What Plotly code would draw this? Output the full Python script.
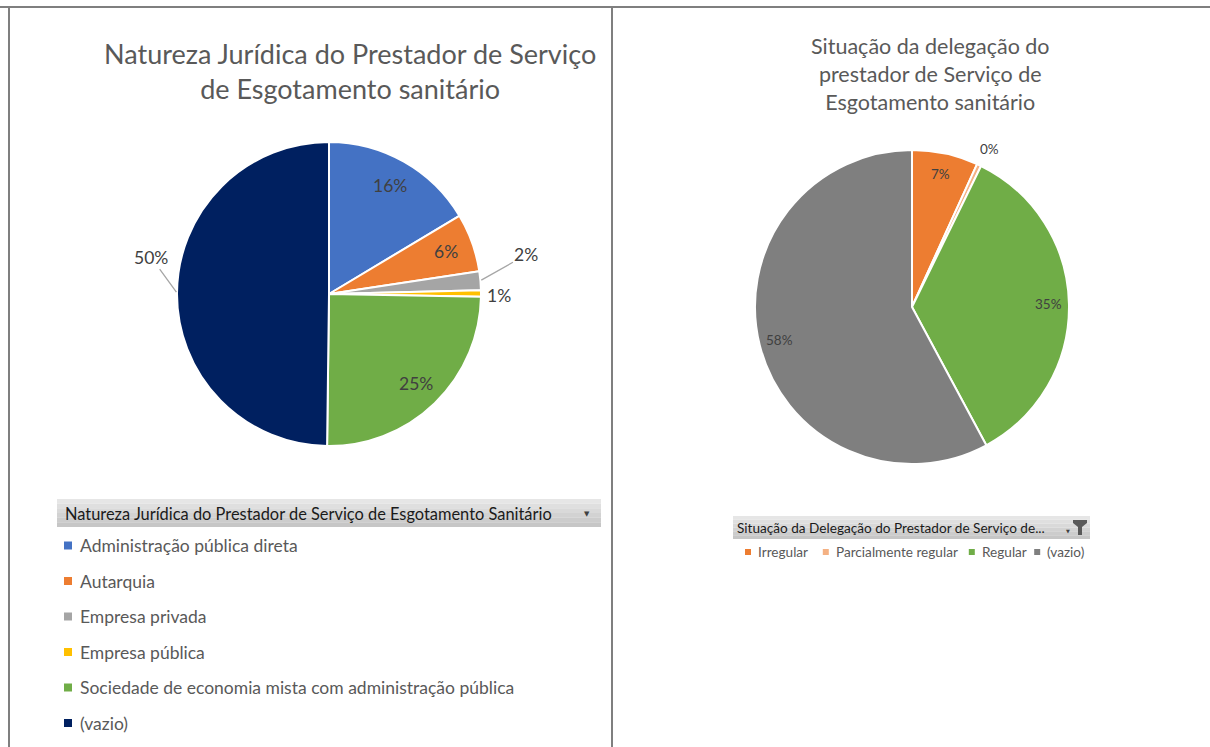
import math
import plotly.graph_objects as go

# ---------------- data ----------------
left_title = "Natureza Jurídica do Prestador de Serviço<br>de Esgotamento sanitário"
left_header = "Natureza Jurídica do Prestador de Serviço de Esgotamento Sanitário"
left_labels = ["Administração pública direta", "Autarquia", "Empresa privada",
               "Empresa pública", "Sociedade de economia mista com administração pública",
               "(vazio)"]
left_values = [16.4, 6.2, 2.0, 0.7, 24.9, 49.8]
left_colors = ["#4472C4", "#ED7D31", "#A5A5A5", "#FFC000", "#70AD47", "#002060"]

right_title = "Situação da delegação do<br>prestador de Serviço de<br>Esgotamento sanitário"
right_header = "Situação da Delegação do Prestador de Serviço de..."
right_labels = ["Irregular", "Parcialmente regular", "Regular", "(vazio)"]
right_values = [6.8, 0.45, 34.9, 57.85]
right_colors = ["#ED7D31", "#F4B183", "#70AD47", "#7F7F7F"]

# ---------------- layout constants ----------------
W, H = 1210, 747
FONT = "Lato"
def px(x): return x / W
def py(y): return 1 - y / H

L_CX, L_CY, L_R = 329, 294, 152
R_CX, R_CY, R_R = 912, 307, 157

fig = go.Figure()
fig.add_trace(go.Pie(
    labels=left_labels, values=left_values, sort=False, direction="clockwise",
    rotation=0, textinfo="none", hoverinfo="label+percent",
    marker=dict(colors=left_colors, line=dict(color="white", width=2)),
    domain=dict(x=[px(L_CX - L_R), px(L_CX + L_R)], y=[py(L_CY + L_R), py(L_CY - L_R)]),
    showlegend=False))
fig.add_trace(go.Pie(
    labels=right_labels, values=right_values, sort=False, direction="clockwise",
    rotation=0, textinfo="none", hoverinfo="label+percent",
    marker=dict(colors=right_colors, line=dict(color="white", width=2)),
    domain=dict(x=[px(R_CX - R_R), px(R_CX + R_R)], y=[py(R_CY + R_R), py(R_CY - R_R)]),
    showlegend=False))

annotations = []
shapes = []

def ann(x, y, text, size, color, family=FONT, xanchor="center", **kw):
    d = dict(x=px(x), y=py(y), xref="paper", yref="paper", text=text,
             xanchor=xanchor, yanchor="middle", showarrow=False,
             font=dict(family=family, size=size, color=color))
    d.update(kw)
    annotations.append(d)

def pie_labels(values, cx, cy, R, rin, size, outside):
    total = sum(values)
    cum = 0
    for i, v in enumerate(values):
        mid = (cum + v / 2) / total * 2 * math.pi
        cum += v
        txt = f"{round(v / total * 100):.0f}%"
        dx, dy = math.sin(mid), -math.cos(mid)
        if i in outside:
            ax, ay, line = outside[i]
            annotations.append(dict(
                x=px(cx + R * dx), y=py(cy + R * dy), xref="paper", yref="paper",
                text=txt, showarrow=True, arrowhead=0, arrowwidth=1.3,
                arrowcolor="#A6A6A6" if line else "rgba(0,0,0,0)",
                ax=ax, ay=ay, standoff=1, xanchor="center", yanchor="middle",
                font=dict(family=FONT, size=size, color="#404040")))
        else:
            ann(cx + rin * R * dx, cy + rin * R * dy, txt, size, "#404040")

pie_labels(left_values, L_CX, L_CY, L_R, 0.82, 17.5,
           {2: (46, -26, True), 3: (18, 2, False), 5: (-26, -36, True)})
pie_labels(right_values, R_CX, R_CY, R_R, 0.87, 13.5,
           {1: (10, -16, False)})

# titles
ann(350, 71, left_title, 27, "#595959")
ann(930, 74, right_title, 21.5, "#595959")

# borders
for x0, y0, x1, y1 in [(0, 7, W, 7), (9, 7, 9, H), (612, 7, 612, H)]:
    shapes.append(dict(type="line", xref="paper", yref="paper", x0=px(x0), y0=py(y0),
                       x1=px(x1), y1=py(y1), line=dict(color="#7F7F7F", width=2)))

def header_bar(x0, x1, y0, y1):
    n = 6
    h = (y1 - y0) / n
    for k in range(n):
        c = int(0xE6 - (0xE6 - 0xC6) * k / (n - 1))
        shapes.append(dict(type="rect", xref="paper", yref="paper",
                           x0=px(x0), x1=px(x1), y0=py(y0 + (k + 1) * h), y1=py(y0 + k * h),
                           line=dict(width=0), fillcolor=f"rgb({c},{c},{c})", layer="below"))

# left legend
header_bar(57, 601, 499, 527)
ann(63, 513, left_header, 16.4, "#1a1a1a", xanchor="left")
ann(587, 514, "▼", 7, "#404040", family="DejaVu Sans")
for i, (lab, col) in enumerate(zip(left_labels, left_colors)):
    yc = 545.5 + i * 35.5
    shapes.append(dict(type="rect", xref="paper", yref="paper",
                       x0=px(64), x1=px(72), y0=py(yc + 4), y1=py(yc - 4),
                       line=dict(width=0), fillcolor=col))
    ann(78, yc, lab, 17.5, "#595959", xanchor="left")

# right legend
header_bar(733, 1090, 516, 539)
ann(735, 527.5, right_header, 13.6, "#1a1a1a", xanchor="left")
ann(1068, 531, "▼", 5, "#404040", family="DejaVu Sans")
fx = lambda x: f"{px(x):.5f}"
fy = lambda y: f"{py(y):.5f}"
funnel = (f"M{fx(1073)},{fy(520)} L{fx(1087)},{fy(520)} L{fx(1087)},{fy(523)} "
          f"L{fx(1082)},{fy(527)} L{fx(1082)},{fy(535)} L{fx(1078)},{fy(535)} "
          f"L{fx(1078)},{fy(527)} L{fx(1073)},{fy(523)} Z")
shapes.append(dict(type="path", xref="paper", yref="paper", path=funnel,
                   fillcolor="#595959", line=dict(width=0)))

char_w = 6.2
x = 745
for lab, col in zip(right_labels, right_colors):
    yc = 552
    shapes.append(dict(type="rect", xref="paper", yref="paper",
                       x0=px(x), x1=px(x + 6), y0=py(yc + 3), y1=py(yc - 3),
                       line=dict(width=0), fillcolor=col))
    ann(x + 11, yc, lab, 13.6, "#595959", xanchor="left")
    x += 11 + len(lab) * char_w + 11

fig.update_layout(
    width=W, height=H, autosize=False,
    margin=dict(l=0, r=0, t=0, b=0),
    paper_bgcolor="white", plot_bgcolor="white",
    annotations=annotations, shapes=shapes,
    font=dict(family=FONT),
)
fig.write_html("out.html", config={"displayModeBar": False},
               post_script="document.body.style.margin='0';")
